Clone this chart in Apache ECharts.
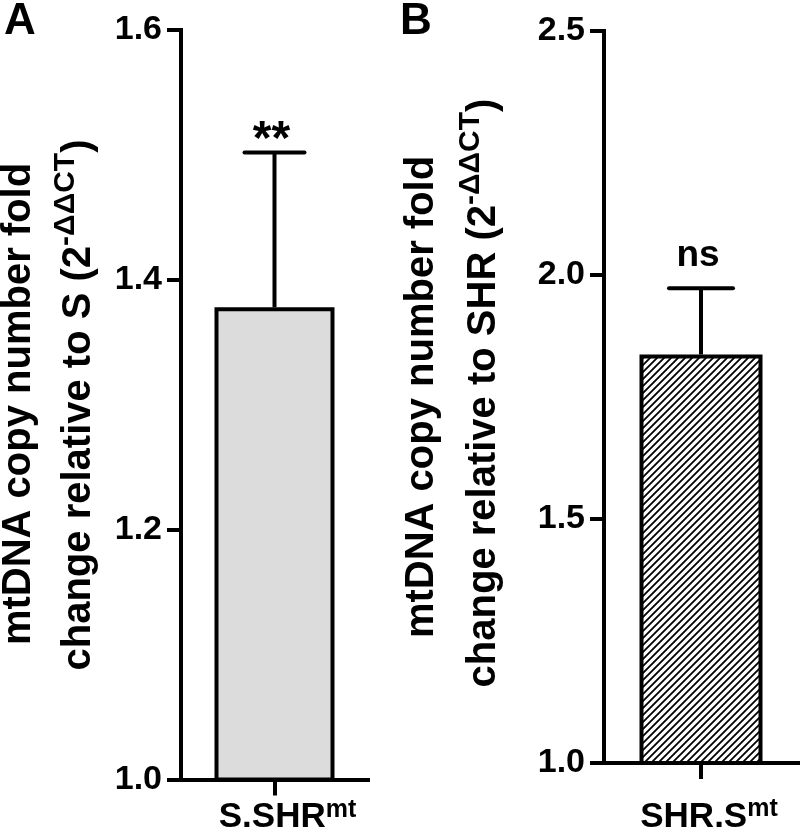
<!DOCTYPE html>
<html>
<head>
<meta charset="utf-8">
<script src="https://cdn.jsdelivr.net/npm/echarts@6/dist/echarts.min.js"></script>
<style>html,body{margin:0;padding:0;background:#fff}#c{width:800px;height:835px}</style>
</head>
<body>
<div id="c"></div>
<script>
// ---- data ----
var catsA = ['S.SHR'];
var supA = ['mt'];
var meanA = [1.378];
var errA = [0.124];
var annA = ['**'];
var ticksA = {min: 1.0, max: 1.6, interval: 0.2};

var catsB = ['SHR.S'];
var supB = ['mt'];
var meanB = [1.837];
var errB = [0.136];
var annB = ['ns'];
var ticksB = {min: 1.0, max: 2.5, interval: 0.5};

var FONT = 'Liberation Sans, Arial, Helvetica, sans-serif';

// hatch pattern
var hatch = document.createElement('canvas');
var S = 7;
hatch.width = S; hatch.height = S;
(function(){
  var ctx = hatch.getContext('2d');
  ctx.fillStyle = '#fff'; ctx.fillRect(0,0,S,S);
  ctx.strokeStyle = '#000'; ctx.lineWidth = 1.8;
  ctx.beginPath();
  ctx.moveTo(-1, S+1); ctx.lineTo(S+1, -1);
  ctx.moveTo(-1, 1); ctx.lineTo(1, -1);
  ctx.moveTo(S-1, S+1); ctx.lineTo(S+1, S-1);
  ctx.stroke();
})();

function yAxisCfg(grid, t) {
  return {
    type: 'value', gridIndex: grid, min: t.min, max: t.max, interval: t.interval,
    axisLine: {show: true, lineStyle: {color: '#000', width: 4, cap: 'square'}},
    axisTick: {show: true, length: 14, lineStyle: {color: '#000', width: 4}},
    splitLine: {show: false},
    axisLabel: {color: '#000', fontSize: 34, fontWeight: 'bold', fontFamily: FONT, margin: 19,
      formatter: function(v){ return v.toFixed(1); }}
  };
}
function xAxisCfg(grid, cats, sups, pad, margin) {
  return {
    type: 'category', gridIndex: grid, data: cats,
    axisLine: {show: true, lineStyle: {color: '#000', width: 4, cap: 'square'}},
    axisTick: {show: true, alignWithLabel: true, length: 16, lineStyle: {color: '#000', width: 4}},
    axisLabel: {
      margin: margin,
      formatter: function(v, i){ return '{p|}{a|' + v + '}{s|' + sups[i] + '}'; },
      rich: {
        p: {width: pad},
        a: {fontSize: 35, fontWeight: 'bold', fontFamily: FONT, color: '#000', lineHeight: 40},
        s: {fontSize: 25, fontWeight: 'bold', fontFamily: FONT, color: '#000', lineHeight: 18, verticalAlign: 'top'}
      }
    }
  };
}

function makeErr(ann, capHalf, annFont, annDy) {
  return function(params, api) {
    var x = api.value(0), m = api.value(1), e = api.value(2);
    var p0 = api.coord([x, m]);
    var p1 = api.coord([x, m + e]);
    return {
      type: 'group',
      children: [
        {type: 'line', shape: {x1: p0[0], y1: p0[1], x2: p1[0], y2: p1[1]}, style: {stroke: '#000', lineWidth: 4}},
        {type: 'line', shape: {x1: p1[0] - capHalf, y1: p1[1], x2: p1[0] + capHalf, y2: p1[1]}, style: {stroke: '#000', lineWidth: 4, lineCap: 'round'}},
        {type: 'text', x: p1[0] - 3, y: p1[1] + annDy,
          style: {text: ann[params.dataIndex], fontSize: annFont, fontWeight: 'bold', fontFamily: FONT, fill: '#000', align: 'center', verticalAlign: 'middle', textAlign: 'center', textVerticalAlign: 'middle'}}
      ]
    };
  };
}

function seriesData(means, errs) {
  return means.map(function(m, i){ return [i, m, errs[i]]; });
}

function titleText(x, y, line) {
  return {type: 'text', x: x, y: y, rotation: Math.PI / 2,
    style: {text: line, fontSize: 40, fontWeight: 'bold', fontFamily: FONT, fill: '#000',
      align: 'center', verticalAlign: 'middle', textAlign: 'center', textVerticalAlign: 'middle'}};
}
function titleRich(x, y, main, sup) {
  return {type: 'text', x: x, y: y, rotation: Math.PI / 2,
    style: {text: '{a|' + main + '}{s|' + sup + '}{a|)}',
      align: 'center', verticalAlign: 'middle', textAlign: 'center', textVerticalAlign: 'middle',
      rich: {
        a: {fontSize: 40, fontWeight: 'bold', fontFamily: FONT, fill: '#000', lineHeight: 56},
        s: {fontSize: 30, fontWeight: 'bold', fontFamily: FONT, fill: '#000', lineHeight: 28, verticalAlign: 'top'}
      }}};
}

var chart = echarts.init(document.getElementById('c'), null, {renderer: 'canvas'});
chart.setOption({
  animation: false,
  backgroundColor: '#fff',
  grid: [
    {left: 181, top: 30, width: 187, height: 752},
    {left: 604, top: 31, width: 194, height: 732}
  ],
  xAxis: [xAxisCfg(0, catsA, supA, 26, 18), xAxisCfg(1, catsB, supB, 16, 34)],
  yAxis: [yAxisCfg(0, ticksA), yAxisCfg(1, ticksB)],
  series: [
    {type: 'bar', xAxisIndex: 0, yAxisIndex: 0, data: meanA, barWidth: 120, clip: true,
      itemStyle: {color: '#dcdcdc', borderColor: '#000', borderWidth: 4}},
    {type: 'bar', xAxisIndex: 1, yAxisIndex: 1, data: meanB, barWidth: 123, clip: true,
      itemStyle: {color: {image: hatch, repeat: 'repeat'}, borderColor: '#000', borderWidth: 4}},
    {type: 'custom', xAxisIndex: 0, yAxisIndex: 0, data: seriesData(meanA, errA), z: 5,
      encode: {x: 0, y: 1}, renderItem: makeErr(annA, 30, 48, -12)},
    {type: 'custom', xAxisIndex: 1, yAxisIndex: 1, data: seriesData(meanB, errB), z: 5,
      encode: {x: 0, y: 1}, renderItem: makeErr(annB, 32, 37, -32)}
  ],
  graphic: [
    {type: 'text', x: 20, y: 22, style: {text: 'A', fontSize: 44, fontWeight: 'bold', fontFamily: FONT, fill: '#000', align: 'center', verticalAlign: 'middle', textAlign: 'center', textVerticalAlign: 'middle'}},
    {type: 'text', x: 416, y: 22, style: {text: 'B', fontSize: 44, fontWeight: 'bold', fontFamily: FONT, fill: '#000', align: 'center', verticalAlign: 'middle', textAlign: 'center', textVerticalAlign: 'middle'}},
    titleText(19, 404, 'mtDNA copy number fold'),
    titleRich(79, 405, 'change relative to S (2', '-ΔΔCT'),
    titleText(422, 397, 'mtDNA copy number fold'),
    titleRich(484, 393, 'change relative to SHR (2', '-ΔΔCT')
  ]
});
</script>
</body>
</html>
